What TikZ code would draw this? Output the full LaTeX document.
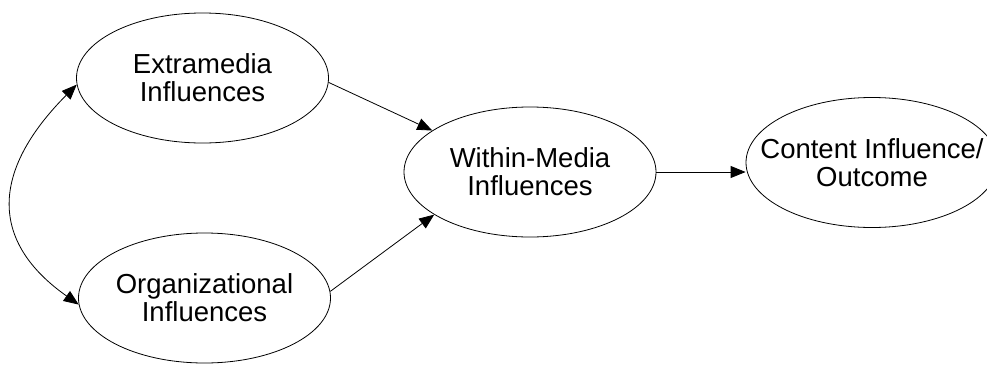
\documentclass[tikz,border=0pt]{standalone}
\usepackage{fontspec}
\setmainfont{Liberation Sans}
\usetikzlibrary{shapes.geometric,arrows.meta}
\begin{document}
\begin{tikzpicture}[x=1pt,y=-1pt,
  factor/.style={ellipse,draw,line width=0.8pt,inner sep=0pt,
    minimum width=252pt,minimum height=130pt,align=center,
    font=\fontsize{27.5}{28}\selectfont},
  link/.style={line width=0.8pt,-{Triangle[length=15pt,width=12pt]}},
  bilink/.style={line width=0.8pt,{Triangle[length=15pt,width=12pt]}-{Triangle[length=15pt,width=12pt]}}]
\useasboundingbox (0,0) rectangle (987,364);
\node[factor] (ext) at (202.5,78) {Extramedia\\Influences};
\node[factor] (org) at (204.5,298) {Organizational\\Influences};
\node[factor] (within) at (530,172) {Within-Media\\Influences};
% the first line is wider than the ellipse leaves room for, so the text
% is set in zero-width boxes and the ellipse keeps its given size
\node[factor] (content) at (872,162.5)
  {\makebox[0pt]{Content Influence/}\\\makebox[0pt]{Outcome}};
\draw[link] (ext.-2) -- (within.157.5);
\draw[link] (org.3.4) -- (within.204.6);
\draw[link] (within.east) -- (content.west |- within.east);
\draw[bilink] (ext.183.2) .. controls (-10,172) and (-10,242) .. (org.183.4);
\end{tikzpicture}
\end{document}
